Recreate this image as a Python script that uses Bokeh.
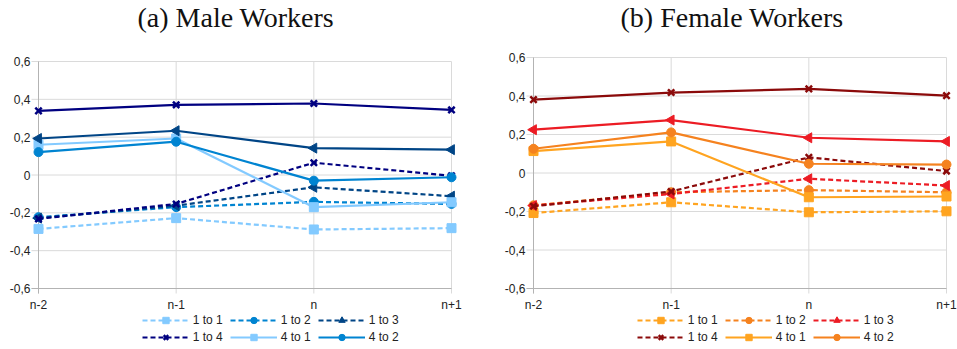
import math
from bokeh.plotting import figure
from bokeh.layouts import row
from bokeh.models import Range1d, FixedTicker, Legend, LegendItem
from bokeh.core.properties import value
from bokeh.embed import file_html
from bokeh.resources import INLINE

# ---------------- data ----------------
periods = ["n-2", "n-1", "n", "n+1"]
y_ticks = [-0.6, -0.4, -0.2, 0, 0.2, 0.4, 0.6]
y_tick_labels = ["-0,6", "-0,4", "-0,2", "0", "0,2", "0,4", "0,6"]

series_names = ["1 to 1", "1 to 2", "1 to 3", "1 to 4", "4 to 1", "4 to 2", "4 to 3", "4 to 4"]
legend_names = ["1 to 1", "1 to 2", "1 to 3", "1 to 4", "4 to 1", "4 to 2"]

male_1to1 = [-0.285, -0.228, -0.288, -0.281]
male_1to2 = [-0.223, -0.170, -0.142, -0.153]
male_1to3 = [-0.228, -0.162, -0.065, -0.112]
male_1to4 = [-0.232, -0.153, 0.065, -0.004]
male_4to1 = [0.160, 0.193, -0.170, -0.144]
male_4to2 = [0.121, 0.176, -0.030, -0.012]
male_4to3 = [0.193, 0.234, 0.142, 0.134]
male_4to4 = [0.339, 0.371, 0.378, 0.344]

female_1to1 = [-0.208, -0.152, -0.204, -0.199]
female_1to2 = [-0.168, -0.100, -0.089, -0.100]
female_1to3 = [-0.169, -0.109, -0.030, -0.065]
female_1to4 = [-0.173, -0.096, 0.081, 0.010]
female_4to1 = [0.114, 0.164, -0.126, -0.122]
female_4to2 = [0.126, 0.211, 0.048, 0.044]
female_4to3 = [0.225, 0.275, 0.183, 0.164]
female_4to4 = [0.381, 0.418, 0.437, 0.402]

male_series = [male_1to1, male_1to2, male_1to3, male_1to4,
               male_4to1, male_4to2, male_4to3, male_4to4]
female_series = [female_1to1, female_1to2, female_1to3, female_1to4,
                 female_4to1, female_4to2, female_4to3, female_4to4]

titles = ["(a) Male Workers", "(b) Female Workers"]

# ---------------- styles ----------------
male_colors = ["#83caff", "#0084d1", "#004586", "#000080",
               "#83caff", "#0084d1", "#004586", "#000080"]
female_colors = ["#ffa420", "#f5821f", "#ec1c24", "#8b0a0a",
                 "#ffa420", "#f5821f", "#ec1c24", "#8b0a0a"]
dashes = ["5 3", "5 3", "5 3", "5 3", "solid", "solid", "solid", "solid"]
markers = ["square", "circle", "triangle", "x", "square", "circle", "triangle", "x"]
angles = [0, 0, math.pi / 2, 0, 0, 0, math.pi / 2, 0]
msizes = [9, 9, 10, 9, 9, 9, 10, 9]

H = 349
GRID = "#dadada"
AXIS = "#b3b3b3"
TXT = "#222222"


def make_panel(title_text, title_dx, series, colors, fig_w, left, right, top, bottom):
    ext_l, tick_l, tick_b = 13, 7, 5
    ext_r = fig_w - right
    n = len(periods)
    xs = list(range(n))
    ux = (right - left) / (xs[-1] - xs[0])
    uy = (bottom - top) / (y_ticks[-1] - y_ticks[0])
    x0 = xs[0] - ext_l / ux
    x1 = xs[-1] + ext_r / ux
    xt = xs[0] - tick_l / ux
    y0 = y_ticks[0] - (H - bottom) / uy
    y1 = y_ticks[-1] + top / uy
    yb = y_ticks[0] - tick_b / uy
    fl = left - ext_l

    p = figure(width=fig_w, height=H, x_range=Range1d(x0, x1), y_range=Range1d(y0, y1),
               output_backend="svg", toolbar_location=None, x_axis_location=None,
               title_location=None,
               min_border_left=fl, min_border_right=0,
               min_border_top=0, min_border_bottom=0)
    p.outline_line_color = None
    p.xgrid.visible = False
    p.ygrid.visible = False
    p.background_fill_color = "white"
    p.border_fill_color = "white"

    # y axis: labels only
    ax = p.yaxis[0]
    ax.ticker = FixedTicker(ticks=y_ticks)
    ax.major_label_overrides = {t: l for t, l in zip(y_ticks, y_tick_labels)}
    ax.axis_line_color = None
    ax.major_tick_line_color = None
    ax.minor_tick_line_color = None
    ax.major_tick_out = 0
    ax.major_tick_in = 0
    ax.major_label_text_font = "Liberation Sans"
    ax.major_label_text_font_size = "12px"
    ax.major_label_text_color = TXT
    ax.major_label_standoff = -5

    # grid lines (extending as tick marks past the axes)
    p.segment(x0=[xt] * len(y_ticks), y0=y_ticks, x1=[xs[-1]] * len(y_ticks), y1=y_ticks,
              line_color=GRID, line_width=1)
    p.segment(x0=xs, y0=[yb] * n, x1=xs, y1=[y_ticks[-1]] * n,
              line_color=GRID, line_width=1)
    # axis lines
    p.segment(x0=[xs[0]], y0=[yb], x1=[xs[0]], y1=[y_ticks[-1]], line_color=AXIS, line_width=1)
    p.segment(x0=[xt], y0=[y_ticks[0]], x1=[xs[-1]], y1=[y_ticks[0]], line_color=AXIS, line_width=1)

    # category labels under the x axis
    p.text(x=xs, y=[y_ticks[0]] * n, text=periods, text_align="center",
           text_baseline="middle", y_offset=16,
           text_font=value("Liberation Sans"), text_font_size=value("12px"), text_color=TXT)

    # panel title
    p.text(x=[xs[0]], y=[y_ticks[-1]], text=[title_text], text_align="left",
           text_baseline="middle", x_offset=title_dx, y_offset=17 - top,
           text_font=value("Liberation Serif"), text_font_size=value("28px"),
           text_color="#111111")

    items = []
    for name, vals, col, dash, mk, ang, ms in zip(series_names, series, colors, dashes,
                                                  markers, angles, msizes):
        lr = p.line(xs, vals, line_color=col, line_width=2.2, line_dash=dash)
        if mk == "x":
            sr = p.scatter(xs, vals, marker=mk, size=ms, line_color=col, line_width=2.5)
        else:
            sr = p.scatter(xs, vals, marker=mk, size=ms, fill_color=col, line_color=col,
                           angle=ang)
        if name in legend_names:
            items.append(LegendItem(label=name, renderers=[lr, sr]))

    legend = Legend(items=items, location=(103.7 + ext_l, 4), orientation="horizontal",
                    ncols=3, glyph_width=47, glyph_height=16, label_standoff=4,
                    label_width=36, label_height=16, spacing=1, padding=0, margin=0,
                    border_line_color=None, background_fill_alpha=0,
                    label_text_font="Liberation Sans", label_text_font_size="12px",
                    label_text_color=TXT)
    p.add_layout(legend, "center")
    return p


p1 = make_panel(titles[0], 99, male_series, male_colors, 480, 38, 451, 61, 288)
p2 = make_panel(titles[1], 87, female_series, female_colors, 477, 53, 466, 57, 288)

layout = row(p1, p2)
open("out.html", "w").write(file_html(layout, INLINE))
